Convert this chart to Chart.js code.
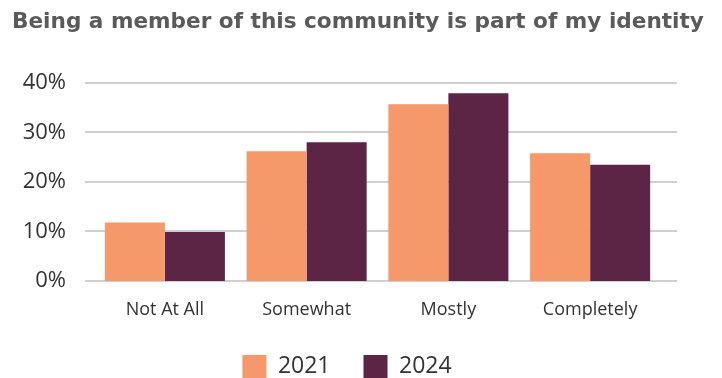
<!DOCTYPE html>
<html>
<head>
<meta charset="utf-8">
<script src="https://cdn.jsdelivr.net/npm/chart.js@4"></script>
<style>
  html, body { margin: 0; padding: 0; background: #fff; }
  #wrap { width: 722px; height: 378px; }
</style>
</head>
<body>
<div id="wrap"><canvas id="chart" width="722" height="378"></canvas></div>
<script>
const categories = ['Not At All', 'Somewhat', 'Mostly', 'Completely'];
const years = ['2021', '2024'];
const values2021 = [11.8, 26.2, 35.7, 25.8];
const values2024 = [9.9, 28.0, 37.9, 23.5];
const yTicks = [0, 10, 20, 30, 40];

const orange = '#F5996A';
const plum = '#5C2445';
const tickFont = "'Open Sans', sans-serif";

// horizontal rules, a bit wider than the plot area
const gridRules = {
  id: 'gridRules',
  beforeDatasetsDraw(chart) {
    const { ctx, chartArea, scales } = chart;
    ctx.save();
    ctx.strokeStyle = '#cfcfcf';
    ctx.lineWidth = 2;
    yTicks.forEach(v => {
      const y = Math.round(scales.y.getPixelForValue(v));
      ctx.beginPath();
      ctx.moveTo(chartArea.left - 9, y);
      ctx.lineTo(chartArea.right + 16, y);
      ctx.stroke();
    });
    ctx.restore();
  }
};

// nudge the legend left of centre and up a bit
const legendShift = {
  id: 'legendShift',
  afterLayout(chart) {
    const lg = chart.legend;
    lg.left -= 15;
    lg.right -= 15;
    lg.top -= 9;
    lg.bottom -= 9;
  }
};

new Chart(document.getElementById('chart'), {
  type: 'bar',
  data: {
    labels: categories,
    datasets: [
      { label: years[0], data: values2021, backgroundColor: orange },
      { label: years[1], data: values2024, backgroundColor: plum }
    ]
  },
  options: {
    responsive: false,
    animation: false,
    layout: { padding: { left: 12, right: 10, top: 0, bottom: -19 } },
    datasets: {
      bar: { barPercentage: 1, categoryPercentage: 0.847 }
    },
    scales: {
      x: {
        grid: { display: false },
        border: { display: false },
        ticks: {
          color: '#333',
          font: { family: tickFont, size: 18 },
          padding: 10
        },
        afterFit(scale) { scale.height = 50; }
      },
      y: {
        min: 0,
        max: 40,
        grid: { display: false, drawTicks: false },
        border: { display: false },
        ticks: {
          stepSize: 10,
          color: '#333',
          font: { family: tickFont, size: 22 },
          padding: 28,
          callback: v => v + '%'
        },
        afterFit(scale) { scale.width = 82; }
      },
      yRight: {
        position: 'right',
        display: true,
        grid: { display: false, drawTicks: false },
        border: { display: false },
        ticks: { display: false },
        afterFit(scale) { scale.width = 51; }
      }
    },
    plugins: {
      title: {
        display: true,
        text: 'Being a member of this community is part of my identity',
        align: 'start',
        color: '#5a5a5a',
        font: { family: "'DejaVu Sans', sans-serif", size: 21.6, weight: 'bold' },
        padding: { top: 9, bottom: 48 }
      },
      legend: {
        position: 'bottom',
        labels: {
          boxWidth: 24,
          boxHeight: 23,
          padding: 33,
          color: '#333',
          font: { family: tickFont, size: 23 }
        }
      },
      tooltip: { enabled: false }
    }
  },
  plugins: [gridRules, legendShift]
});
</script>
</body>
</html>
